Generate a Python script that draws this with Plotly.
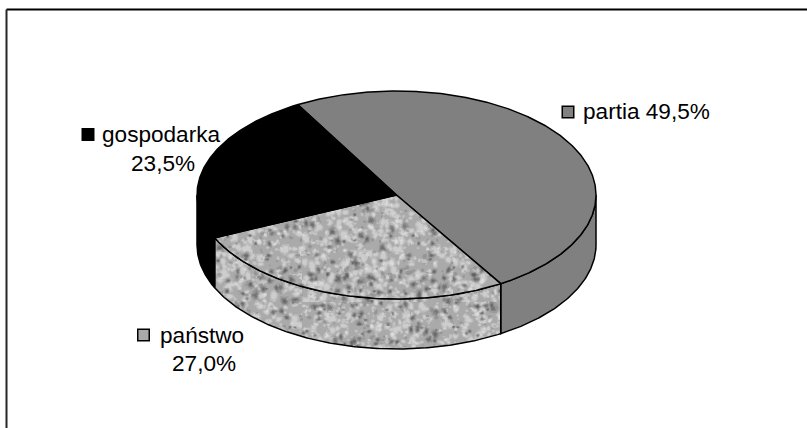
import math
import plotly.graph_objects as go

# Shares of the three groups, clockwise from the upper-left edge of the disc
categories = ["partia", "państwo", "gospodarka"]
values = [49.5, 27.0, 23.5]
value_labels = ["49,5%", "27,0%", "23,5%"]
fills = ["#808080", "#aaaaaa", "#000000"]

START_DEG = -29.7
CX, CY, RX, RY, DEPTH = 396.5, 195.0, 199.5, 104.0, 50.0
W, H = 807, 428


def rim(theta_deg, drop=0.0):
    t = math.radians(theta_deg)
    return CX + RX * math.sin(t), CY - RY * math.cos(t) + drop


def arc(a, b, drop=0.0):
    n = max(2, int(abs(b - a)) * 2)
    return [rim(a + (b - a) * i / n, drop) for i in range(n + 1)]


def scatter01(i, salt):
    """Hash an index to a repeatable position in the unit interval."""
    v = math.sin(i * 12.9898 + salt * 78.233) * 43758.5453
    return v - math.floor(v)


def grain_path(tile, count, radius, seed):
    """Irregular blobs spread over one pattern tile, used as a mottled print texture."""
    parts = []
    for i in range(1, count + 1):
        x = scatter01(i, seed) * tile
        y = scatter01(i, seed + 1.7) * tile
        r = radius * (0.6 + scatter01(i, seed + 3.1) * 0.9)
        stretch = 0.6 + scatter01(i, seed + 4.3) * 0.8
        pts = []
        for k in range(8):
            a = k / 8 * 2 * math.pi
            wob = 0.7 + scatter01(i * 13 + k, seed + 5.9) * 0.6
            pts.append((x + r * wob * math.cos(a), y + r * wob * stretch * math.sin(a)))
        parts.append("M" + "L".join(f"{p[0]:.1f} {p[1]:.1f}" for p in pts) + "Z")
    return "".join(parts)


def add_poly(fig, pts, fill, line=True, pattern=None):
    fig.add_trace(go.Scatter(
        x=[p[0] for p in pts] + [pts[0][0]],
        y=[p[1] for p in pts] + [pts[0][1]],
        mode="lines",
        fill="toself",
        fillcolor=fill,
        fillpattern=pattern,
        line=dict(color="#000000", width=1.5) if line else dict(width=0, color="rgba(0,0,0,0)"),
        hoverinfo="skip",
        showlegend=False,
    ))


# Grain layers for the mottled slice: (colour, opacity, tile, blob count, radius, seed)
GRAIN = [
    ("#ffffff", 0.20, 151, 420, 3.2, 0.11),
    ("#ffffff", 0.26, 151, 420, 2.0, 0.11),
    ("#ffffff", 0.28, 137, 300, 1.5, 0.37),
    ("#303030", 0.13, 163, 170, 3.4, 0.23),
    ("#202020", 0.20, 163, 170, 2.2, 0.23),
    ("#202020", 0.24, 163, 170, 1.2, 0.23),
    ("#202020", 0.15, 127, 170, 1.6, 0.71),
]


def add_grainy(fig, pts, fill):
    add_poly(fig, pts, fill, line=False)
    for colour, opacity, tile, count, radius, seed in GRAIN:
        add_poly(fig, pts, "rgba(0,0,0,0)", line=False, pattern=dict(
            path=grain_path(tile, count, radius, seed),
            size=tile, fgcolor=colour, fgopacity=opacity,
            bgcolor="rgba(0,0,0,0)", fillmode="overlay",
        ))
    xs = [p[0] for p in pts] + [pts[0][0]]
    ys = [p[1] for p in pts] + [pts[0][1]]
    fig.add_trace(go.Scatter(x=xs, y=ys, mode="lines", hoverinfo="skip", showlegend=False,
                             line=dict(color="#000000", width=1.5)))


# Slice boundaries follow directly from the shares
edges = [START_DEG]
for v in values:
    edges.append(edges[-1] + v / sum(values) * 360)

fig = go.Figure()

# Side wall: only the front half of the rim (90 to 270 degrees) is visible
for i, (cat, fill) in enumerate(zip(categories, fills)):
    a, b = max(edges[i], 90), min(edges[i + 1], 270)
    if b <= a:
        continue
    wall = arc(a, b) + arc(b, a, DEPTH)
    if cat == "państwo":
        add_grainy(fig, wall, fill)
    else:
        add_poly(fig, wall, fill)

# Top face
for i, (cat, fill) in enumerate(zip(categories, fills)):
    wedge = [(CX, CY)] + arc(edges[i], edges[i + 1])
    if cat == "państwo":
        add_grainy(fig, wedge, fill)
    else:
        add_poly(fig, wedge, fill)

# Legend keys beside the labels
KEYS = {"partia": (568, 112), "gospodarka": (88, 134.5), "państwo": (143.5, 335)}
for cat, fill in zip(categories, fills):
    kx, ky = KEYS[cat]
    fig.add_trace(go.Scatter(
        x=[kx], y=[ky], mode="markers", hoverinfo="skip", showlegend=False,
        marker=dict(symbol="square", size=11.5, color=fill, line=dict(color="#000000", width=1.5)),
    ))

FONT = dict(family="Liberation Sans, Arial, sans-serif", size=22.6, color="#000000")
by_cat = dict(zip(categories, value_labels))
ann = [
    dict(x=580.5, y=111.5, text=f"partia {by_cat['partia']}", xanchor="left"),
    dict(x=100, y=134.5, text="gospodarka", xanchor="left"),
    dict(x=162.5, y=163, text=by_cat["gospodarka"], xanchor="center"),
    dict(x=158, y=335, text="państwo", xanchor="left"),
    dict(x=203.5, y=363.5, text=by_cat["państwo"], xanchor="center"),
]
annotations = [dict(a, xref="x", yref="y", yanchor="middle", showarrow=False, font=FONT) for a in ann]

# Chart frame: only the top and left edges are drawn
frame = [
    dict(type="line", xref="x", yref="y", x0=6.5, x1=W, y0=9.5, y1=9.5, line=dict(color="#000000", width=2)),
    dict(type="line", xref="x", yref="y", x0=6.5, x1=6.5, y0=9.5, y1=H, line=dict(color="#262626", width=2)),
]

fig.update_layout(
    width=W, height=H,
    margin=dict(l=0, r=0, t=0, b=0),
    paper_bgcolor="#ffffff", plot_bgcolor="#ffffff",
    xaxis=dict(range=[0, W], visible=False, fixedrange=True),
    yaxis=dict(range=[H, 0], visible=False, fixedrange=True),
    shapes=frame,
    annotations=annotations,
)

fig.write_html("out.html")
